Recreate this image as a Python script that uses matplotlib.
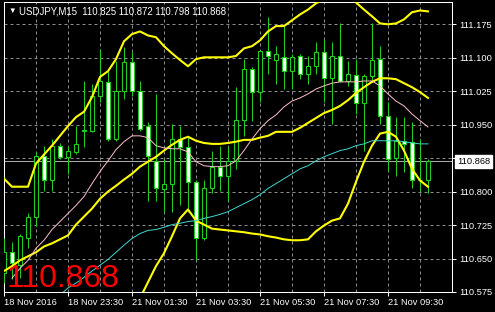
"""USDJPY M15 candles with Bollinger bands and two moving averages, MetaTrader look."""

import numpy as np
import matplotlib
matplotlib.use("Agg")
import matplotlib.pyplot as plt  # noqa: E402
from matplotlib.ticker import FixedLocator  # noqa: E402

plt.rcParams["font.family"] = ["Liberation Sans", "DejaVu Sans"]

SYMBOL = "USDJPY,M15"
LAST = 110.868

# ------ candles (bar 0 = 18 Nov 21:30, 15 min each) ------
opens = [110.617, 110.664, 110.635, 110.695, 110.744, 110.880, 110.825, 110.903, 110.878, 110.889,
         110.936, 110.936, 111.014, 111.046, 110.918, 111.025, 111.090, 111.025, 110.947, 110.869,
         110.805, 110.818, 110.918, 110.900, 110.822, 110.697, 110.809, 110.856, 110.834, 110.869,
         110.961, 111.075, 111.023, 111.115, 111.095, 111.101, 111.070, 111.104, 111.063, 111.081,
         111.113, 111.054, 111.104, 111.048, 111.061, 110.999, 111.059, 111.097, 110.970, 110.876,
         110.914, 110.912, 110.827, 110.825]
highs = [110.695, 110.688, 110.706, 110.751, 110.889, 110.903, 110.918, 110.909, 110.903, 110.947,
         111.048, 111.041, 111.119, 111.070, 111.092, 111.124, 111.113, 111.048, 110.956, 111.019,
         110.874, 110.952, 110.947, 110.923, 110.825, 110.825, 110.892, 110.903, 110.903, 111.034,
         111.097, 111.079, 111.117, 111.191, 111.126, 111.171, 111.108, 111.108, 111.104, 111.135,
         111.142, 111.135, 111.177, 111.092, 111.097, 111.063, 111.177, 111.126, 111.001, 110.967,
         110.967, 110.956, 110.918, 110.872]
lows = [110.595, 110.604, 110.606, 110.673, 110.724, 110.802, 110.802, 110.874, 110.840, 110.885,
        110.900, 110.934, 111.001, 110.914, 110.914, 111.008, 111.014, 110.936, 110.778, 110.778,
        110.755, 110.755, 110.769, 110.755, 110.646, 110.691, 110.796, 110.802, 110.778, 110.851,
        110.925, 110.959, 111.001, 111.063, 111.041, 111.030, 111.030, 111.052, 111.041, 111.063,
        111.001, 110.952, 111.046, 111.037, 110.974, 110.892, 111.046, 110.952, 110.847, 110.834,
        110.845, 110.807, 110.800, 110.798]
closes = [110.664, 110.639, 110.700, 110.744, 110.880, 110.825, 110.903, 110.878, 110.892, 110.907,
          110.938, 111.014, 111.048, 110.918, 111.025, 111.090, 111.025, 110.941, 110.880, 110.807,
          110.818, 110.918, 110.900, 110.822, 110.695, 110.809, 110.856, 110.834, 110.869, 110.961,
          111.075, 111.023, 111.115, 111.104, 111.108, 111.070, 111.101, 111.063, 111.081, 111.113,
          111.054, 111.104, 111.048, 111.063, 110.999, 111.059, 111.095, 110.970, 110.874, 110.914,
          110.907, 110.827, 110.825, 110.868]

# ------ indicators ------
bb_upper = [110.829, 110.811, 110.811, 110.811, 110.863, 110.883, 110.903, 110.925, 110.947, 110.967,
            110.979, 111.012, 111.057, 111.070, 111.097, 111.137, 111.153, 111.159, 111.150, 111.146,
            111.126, 111.110, 111.095, 111.081, 111.097, 111.101, 111.101, 111.101, 111.101, 111.104,
            111.121, 111.126, 111.139, 111.159, 111.171, 111.171, 111.184, 111.197, 111.208, 111.222,
            111.231, 111.240, 111.246, 111.244, 111.224, 111.208, 111.193, 111.177, 111.175, 111.177,
            111.186, 111.202, 111.206, 111.204]
bb_mid = [110.622, 110.633, 110.646, 110.655, 110.664, 110.677, 110.684, 110.693, 110.702, 110.726,
          110.744, 110.762, 110.784, 110.800, 110.813, 110.827, 110.840, 110.856, 110.867, 110.878,
          110.892, 110.905, 110.916, 110.923, 110.914, 110.909, 110.907, 110.907, 110.909, 110.912,
          110.916, 110.916, 110.921, 110.925, 110.934, 110.934, 110.934, 110.943, 110.954, 110.965,
          110.976, 110.983, 110.992, 111.005, 111.021, 111.034, 111.046, 111.054, 111.054, 111.052,
          111.043, 111.034, 111.023, 111.010]
bb_lower = [np.nan] * 16 + [
    110.512, 110.561, 110.597, 110.633, 110.662, 110.700, 110.740, 110.760, 110.735, 110.726,
    110.717, 110.715, 110.713, 110.711, 110.709, 110.706, 110.704, 110.700, 110.697, 110.693,
    110.691, 110.691, 110.693, 110.711, 110.724, 110.735, 110.740, 110.773, 110.822, 110.867,
    110.903, 110.930, 110.934, 110.923, 110.892, 110.851, 110.825, 110.811]
ma_pink = [np.nan] + [
    110.606, 110.628, 110.646, 110.673, 110.691, 110.715, 110.733, 110.751, 110.769, 110.789,
    110.818, 110.845, 110.869, 110.894, 110.912, 110.925, 110.925, 110.921, 110.903, 110.898,
    110.896, 110.896, 110.889, 110.867, 110.858, 110.856, 110.856, 110.858, 110.869, 110.892,
    110.918, 110.941, 110.959, 110.972, 110.990, 111.003, 111.010, 111.019, 111.030, 111.037,
    111.043, 111.046, 111.046, 111.046, 111.048, 111.048, 111.037, 111.019, 111.003, 110.992,
    110.974, 110.959, 110.945]
ma_cyan = [np.nan] * 7 + [
    110.568, 110.584, 110.595, 110.608, 110.622, 110.635, 110.648, 110.664, 110.680, 110.695,
    110.706, 110.713, 110.715, 110.720, 110.726, 110.729, 110.733, 110.735, 110.740, 110.744,
    110.749, 110.755, 110.764, 110.773, 110.782, 110.793, 110.807, 110.818, 110.829, 110.840,
    110.851, 110.858, 110.869, 110.878, 110.885, 110.892, 110.896, 110.903, 110.907, 110.914,
    110.914, 110.914, 110.914, 110.912, 110.909, 110.907, 110.907]

# ------ axes labels ------
price_ticks = [110.575, 110.650, 110.725, 110.800, 110.875, 110.950, 111.025, 111.100, 111.175]
time_bars = [0, 8, 16, 24, 32, 40, 48]
time_labels = ["18 Nov 2016", "18 Nov 23:30", "21 Nov 01:30", "21 Nov 03:30",
               "21 Nov 05:30", "21 Nov 07:30", "21 Nov 09:30"]

GREEN = "#22cc22"
YELLOW = "#ffff00"
GRID = "#8c8c8c"
W, H, DPI = 495, 312, 100


def main():
    fig = plt.figure(figsize=(W / DPI, H / DPI), dpi=DPI, facecolor="black")
    ax = fig.add_axes([4 / W, 20 / H, 448 / W, 290 / H], facecolor="black")

    x = np.arange(len(opens))
    o, hi, lo, c = (np.array(v) for v in (opens, highs, lows, closes))
    bull = c >= o

    # candles: wicks first, bodies on top (bull hollow, bear white)
    ax.vlines(x, lo, hi, color=GREEN, lw=0.75, zorder=3)
    ax.bar(x, np.abs(c - o), bottom=np.minimum(o, c), width=0.5,
           color=np.where(bull, "black", "white"), edgecolor=GREEN,
           linewidth=0.8, zorder=4)

    ax.axhline(LAST, color="#a8a8a8", lw=0.75, zorder=2)

    for band in (bb_upper, bb_mid, bb_lower):
        ax.plot(x, band, color=YELLOW, lw=1.5, zorder=5)
    ax.plot(x, ma_pink, color="#ffc0cb", lw=0.7, zorder=5)
    ax.plot(x, ma_cyan, color="#40d8d0", lw=0.7, zorder=5)

    ax.set_xlim(0, 56)
    ax.set_ylim(110.576, 111.225)

    # price scale on the right
    ax.yaxis.tick_right()
    ax.set_yticks(price_ticks)
    ax.set_yticklabels([f"{p:.3f}" for p in price_ticks])
    ax.tick_params(axis="y", colors="white", length=3, width=0.75, pad=2,
                   labelsize=6.7)

    # time scale
    ax.set_xticks(time_bars)
    ax.set_xticklabels(time_labels, ha="left")
    ax.xaxis.set_minor_locator(FixedLocator(range(0, 57, 4)))
    ax.tick_params(axis="x", colors="white", length=3, width=0.75, pad=1.5,
                   labelsize=6.7)
    ax.tick_params(axis="x", which="minor", length=0)

    grid_kw = dict(color=GRID, lw=0.72, ls=(0, (3, 3)))
    ax.grid(True, axis="x", which="both", **grid_kw)
    ax.grid(True, axis="y", which="major", **grid_kw)
    ax.set_axisbelow(True)

    for s in ax.spines.values():
        s.set_color("white")
        s.set_linewidth(0.75)

    # last price box over the scale
    ax.annotate(f"{LAST:.3f}", xy=(1, LAST), xycoords=ax.get_yaxis_transform(),
                xytext=(5, 0), textcoords="offset pixels", ha="left", va="center",
                color="black", fontsize=6.7, annotation_clip=False, zorder=10,
                bbox=dict(boxstyle="square,pad=0.2", fc="white", ec="white"))

    # big red price label
    ax.text(3 / 448, 5 / 290, f"{LAST:.3f}", transform=ax.transAxes, color="#ff0000",
            fontsize=23, va="baseline", ha="left", zorder=7)

    # header
    header = (f"{SYMBOL}  {opens[-1]:.3f} {highs[-1]:.3f} "
              f"{lows[-1]:.3f} {closes[-1]:.3f}")
    fig.text(8 / W, 1 - 11 / H, "\u25bc", color="white", fontsize=5.5,
             va="center", ha="left")
    fig.text(19 / W, 1 - 11 / H, header, color="white", fontsize=6.9,
             va="center", ha="left")

    fig.savefig("out.png", dpi=DPI, facecolor="black")


if __name__ == "__main__":
    main()
